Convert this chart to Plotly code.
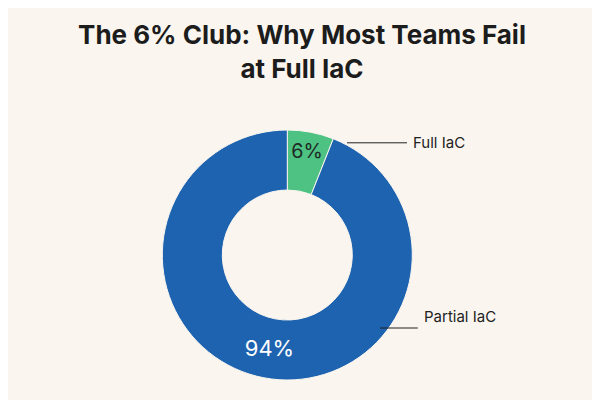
import plotly.graph_objects as go

labels = ["Full IaC", "Partial IaC"]
values = [6, 94]
colors = ["#4dc283", "#1e63b0"]

fig = go.Figure(go.Pie(
    labels=labels, values=values, hole=0.52, sort=False, direction="clockwise",
    rotation=0, marker=dict(colors=colors, line=dict(color="#faf6ef", width=1)),
    texttemplate="%{value}%", textposition="inside", insidetextorientation="horizontal",
    textfont=dict(size=[20, 22], color=["#1d2a24", "white"], family="Inter"),
    domain=dict(x=[0.257, 0.674], y=[0.07, 0.695]),
    showlegend=False,
))

# callout lines to the outside labels
fig.add_shape(type="line", xref="paper", yref="paper", x0=0.565, y0=0.663, x1=0.665, y1=0.663,
              line=dict(color="#222", width=1))
fig.add_shape(type="line", xref="paper", yref="paper", x0=0.62, y0=0.2, x1=0.683, y1=0.2,
              line=dict(color="#222", width=1))
fig.add_annotation(text=labels[0], xref="paper", yref="paper", x=0.672, y=0.663,
                   xanchor="left", showarrow=False, font=dict(size=15, color="#222", family="Inter"))
fig.add_annotation(text=labels[1], xref="paper", yref="paper", x=0.69, y=0.2,
                   xanchor="left", showarrow=False, font=dict(size=15, color="#222", family="Inter"))

fig.update_layout(
    width=600, height=400, margin=dict(l=0, r=0, t=0, b=0),
    paper_bgcolor="#faf6ef", plot_bgcolor="#faf6ef",
    title=dict(text="<b>The 6% Club: Why Most Teams Fail<br>at Full IaC</b>", x=0.49, y=0.91,
               xanchor="center", yanchor="top",
               font=dict(size=26, color="#1c1c1c", family="Inter")),
)
fig.write_html("out.html")
